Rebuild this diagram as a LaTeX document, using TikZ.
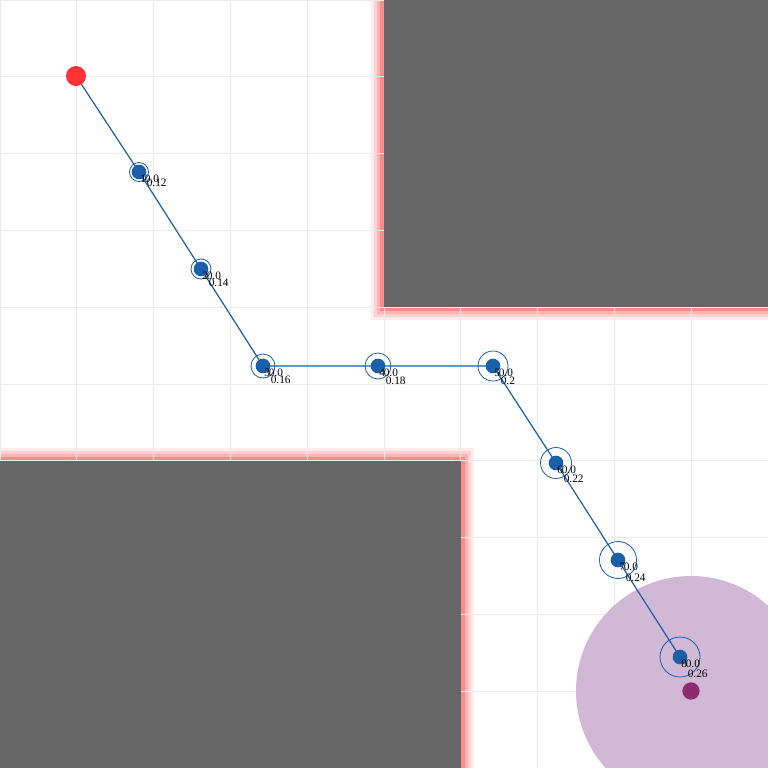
\documentclass[tikz,border=0pt]{standalone}
\usepackage{fontspec}
\setmainfont{Liberation Serif}
\definecolor{pathblue}{HTML}{1A5FAA}
\definecolor{obst}{HTML}{666666}
\definecolor{gridc}{HTML}{EBEBEB}
\definecolor{glowA}{HTML}{FFEDED}
\definecolor{glowB}{HTML}{FFD3D3}
\definecolor{glowC}{HTML}{FFB3B3}
\definecolor{glowD}{HTML}{FF8A8A}
\definecolor{startred}{HTML}{FF3333}
\definecolor{goalzone}{HTML}{D1B9D6}
\definecolor{goaldot}{HTML}{8E2A6E}
\begin{document}
\begin{tikzpicture}[x=0.75pt,y=-0.75pt,
  lbl/.style={font=\fontsize{8.5}{9}\selectfont, inner sep=0pt, anchor=base west, text=black},
  wpdot/.style={circle, fill=pathblue, inner sep=0pt, minimum size=11pt},
  ring/.style={draw=pathblue, line width=0.6pt},
  pathline/.style={draw=pathblue, line width=0.9pt},
  startdot/.style={circle, fill=startred, inner sep=0pt, minimum size=15pt},
  goalnode/.style={circle, fill=goaldot, inner sep=0pt, minimum size=13pt}]
\useasboundingbox (0,0) rectangle (768,768);
\clip (0,0) rectangle (768,768);
\fill[white] (0,0) rectangle (768,768);
% glow around obstacles
\foreach \d/\c in {13/glowA,10/glowB,7/glowC,4/glowD}{
  \fill[\c] (384-\d,-20) rectangle (790,307+\d);
  \fill[\c] (-20,461-\d) rectangle (461+\d,790);
}
% grid
\foreach \i in {0,...,10}{
  \draw[gridc, line width=0.7pt] (\i*76.8,0) -- (\i*76.8,768);
  \draw[gridc, line width=0.7pt] (0,\i*76.8) -- (768,\i*76.8);
}
% obstacles
\fill[obst] (384,0) rectangle (768,307);
\fill[obst] (0,461) rectangle (461,768);
% goal zone
\fill[goalzone] (691,691) circle[radius=115];
% waypoints
\coordinate (s) at (76,76);
\coordinate (p1) at (139,172);
\coordinate (p2) at (201,269);
\coordinate (p3) at (263,366);
\coordinate (p4) at (378,366);
\coordinate (p5) at (493,366);
\coordinate (p6) at (556,463);
\coordinate (p7) at (618,560);
\coordinate (p8) at (680,657);
\draw[pathline] (s) -- (p1) -- (p2) -- (p3) -- (p4) -- (p5) -- (p6) -- (p7) -- (p8);
\foreach \k/\r/\t/\ty in {1/9.5/0.12/14,2/10/0.14/17,3/12/0.16/17,4/13/0.18/18,5/15/0.2/18,6/15.5/0.22/19,7/18.5/0.24/21,8/20/0.26/20}{
  \draw[ring] (p\k) circle[radius=\r];
  \node[wpdot] (w\k) at (p\k) {};
  \node[lbl] (i\k) at ([shift={(1,10)}]p\k) {\k};
  \node[lbl] (z\k) at ([shift={(5.5,10)}]p\k) {0.0};
  \node[lbl] (t\k) at ([shift={(7.5,\ty)}]p\k) {\t};
}
\node[startdot] (start) at (s) {};
\node[goalnode] (goal) at (691,691) {};
\end{tikzpicture}
\end{document}
